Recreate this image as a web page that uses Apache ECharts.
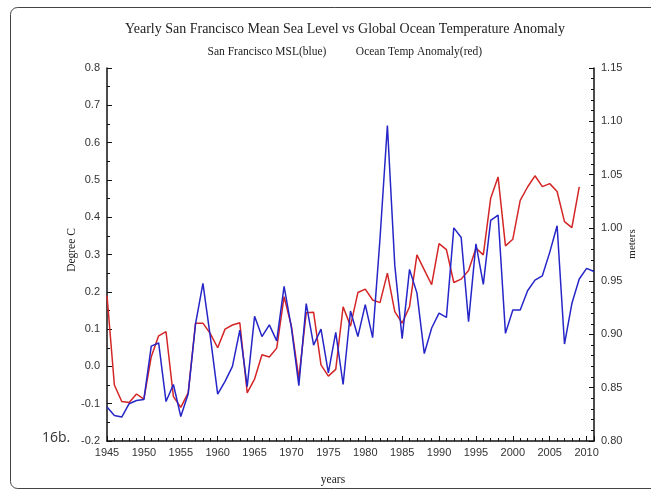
<!DOCTYPE html>
<html>
<head>
<meta charset="utf-8">
<title>Yearly San Francisco Mean Sea Level vs Global Ocean Temperature Anomaly</title>
<script src="https://cdn.jsdelivr.net/npm/echarts@6/dist/echarts.min.js"></script>
<style>
  html, body { margin: 0; padding: 0; background: #fff; }
  #chart { width: 651px; height: 491px; }
</style>
</head>
<body>
<div id="chart"></div>
<script>
// Years on the horizontal axis
const tempYears = [1945,1946,1947,1948,1949,1950,1951,1952,1953,1954,1955,1956,1957,1958,1959,
  1960,1961,1962,1963,1964,1965,1966,1967,1968,1969,1970,1971,1972,1973,1974,1975,1976,1977,
  1978,1979,1980,1981,1982,1983,1984,1985,1986,1987,1988,1989,1990,1991,1992,1993,1994,1995,
  1996,1997,1998,1999,2000,2001,2002,2003,2004,2005,2006,2007,2008,2009];
const mslYears = [1945,1946,1947,1948,1949,1950,1951,1952,1953,1954,1955,1956,1957,1958,1959,
  1960,1961,1962,1963,1964,1965,1966,1967,1968,1969,1970,1971,1972,1973,1974,1975,1976,1977,
  1978,1979,1980,1981,1982,1983,1984,1985,1986,1987,1988,1989,1990,1991,1992,1993,1994,1995,
  1996,1997,1998,1999,2000,2001,2002,2003,2004,2005,2006,2007,2008,2009,2010,2011];

// Global ocean temperature anomaly (degree C), left axis
const oceanTempAnomaly = [0.19,-0.05,-0.094,-0.097,-0.074,-0.088,0.026,0.082,0.093,-0.081,-0.11,-0.071,0.116,0.116,0.088,
  0.05,0.1,0.111,0.117,-0.071,-0.034,0.031,0.025,0.049,0.187,0.107,-0.032,0.144,0.145,0.004,-0.026,-0.008,0.16,
  0.108,0.198,0.207,0.178,0.171,0.25,0.147,0.116,0.16,0.299,0.259,0.219,0.329,0.313,0.225,0.234,0.257,0.317,
  0.299,0.451,0.508,0.323,0.341,0.445,0.481,0.511,0.482,0.49,0.469,0.388,0.372,0.481];

// San Francisco yearly mean sea level (meters), right axis
const sfMeanSeaLevel = [0.832,0.824,0.8225,0.835,0.838,0.839,0.889,0.892,0.837,0.853,0.823,0.844,0.910,0.948,0.898,
  0.844,0.856,0.870,0.904,0.851,0.917,0.898,0.909,0.894,0.945,0.906,0.852,0.929,0.890,0.905,0.864,0.902,0.853,
  0.922,0.898,0.928,0.897,0.99,1.096,0.965,0.896,0.961,0.939,0.882,0.906,0.920,0.916,1.0,0.991,0.912,0.985,
  0.947,1.007,1.012,0.901,0.923,0.923,0.941,0.951,0.955,0.977,1.002,0.891,0.929,0.952,0.962,0.959];

const tempTicks = { min: -0.2, max: 0.8, step: 0.1 };
const mslTicks = { min: 0.8, max: 1.15, step: 0.05 };
const yearTicks = { min: 1945, max: 2011, step: 5 };

const chart = echarts.init(document.getElementById('chart'), null, { renderer: 'canvas' });

const tickFont = { fontFamily: 'Liberation Sans', fontSize: 11, color: '#333' };
const serif = 'Liberation Serif';
const axisBlack = { color: '#111', width: 1.5 };

const option = {
  animation: false,
  backgroundColor: '#fff',
  grid: { left: 107, right: 57, top: 68, bottom: 50, containLabel: false },
  xAxis: {
    type: 'value',
    min: yearTicks.min, max: yearTicks.max, interval: yearTicks.step,
    axisLine: { show: true, onZero: false, lineStyle: axisBlack },
    axisTick: { show: true, inside: true, length: 5, lineStyle: { color: '#111', width: 1 } },
    minorTick: { show: true, splitNumber: 5, length: 3, lineStyle: { color: '#111', width: 1 } },
    splitLine: { show: false },
    axisLabel: Object.assign({ margin: 6, formatter: v => String(v) }, tickFont)
  },
  yAxis: [
    {
      type: 'value',
      position: 'left',
      min: tempTicks.min, max: tempTicks.max, interval: tempTicks.step,
      axisLine: { show: true, lineStyle: axisBlack },
      axisTick: { show: true, inside: true, length: 5, lineStyle: { color: '#111', width: 1 } },
      minorTick: { show: true, splitNumber: 2, length: 3, lineStyle: { color: '#111', width: 1 } },
      splitLine: { show: false },
      axisLabel: Object.assign({ margin: 7, formatter: v => v.toFixed(1) }, tickFont)
    },
    {
      type: 'value',
      position: 'right',
      min: mslTicks.min, max: mslTicks.max, interval: mslTicks.step,
      axisLine: { show: true, lineStyle: axisBlack },
      axisTick: { show: true, inside: true, length: 5, lineStyle: { color: '#111', width: 1 } },
      minorTick: { show: true, splitNumber: 5, length: 3, lineStyle: { color: '#111', width: 1 } },
      splitLine: { show: false },
      axisLabel: Object.assign({ margin: 7, formatter: v => v.toFixed(2) }, tickFont)
    }
  ],
  series: [
    {
      name: 'Ocean Temp Anomaly',
      type: 'line',
      yAxisIndex: 0,
      data: tempYears.map((y, i) => [y, oceanTempAnomaly[i]]),
      showSymbol: false,
      lineStyle: { color: '#d42626', width: 1.5 },
      z: 2
    },
    {
      name: 'San Francisco MSL',
      type: 'line',
      yAxisIndex: 1,
      data: mslYears.map((y, i) => [y, sfMeanSeaLevel[i]]),
      showSymbol: false,
      lineStyle: { color: '#2626c8', width: 1.5 },
      z: 3
    }
  ],
  graphic: [
    {
      type: 'rect', silent: true,
      shape: { x: 10.5, y: 7.5, width: 720, height: 481, r: 7 },
      style: { fill: 'none', stroke: '#444', lineWidth: 1 }
    },
    {
      type: 'text', x: 345, y: 29,
      style: { text: 'Yearly San Francisco Mean Sea Level vs Global Ocean Temperature Anomaly',
        fontFamily: serif, fontSize: 14, fill: '#222', align: 'center', verticalAlign: 'middle' }
    },
    {
      type: 'text', x: 267, y: 52,
      style: { text: 'San Francisco MSL(blue)', fontFamily: serif, fontSize: 11.5, fill: '#222',
        align: 'center', verticalAlign: 'middle' }
    },
    {
      type: 'text', x: 419, y: 52,
      style: { text: 'Ocean Temp Anomaly(red)', fontFamily: serif, fontSize: 11.5, fill: '#222',
        align: 'center', verticalAlign: 'middle' }
    },
    {
      type: 'text', x: 72, y: 250, rotation: Math.PI / 2,
      style: { text: 'Degree C', fontFamily: serif, fontSize: 11.5, fill: '#222',
        align: 'center', verticalAlign: 'middle' }
    },
    {
      type: 'text', x: 632, y: 244, rotation: Math.PI / 2,
      style: { text: 'meters', fontFamily: serif, fontSize: 11, fill: '#222',
        align: 'center', verticalAlign: 'middle' }
    },
    {
      type: 'text', x: 333, y: 480,
      style: { text: 'years', fontFamily: serif, fontSize: 11.5, fill: '#222',
        align: 'center', verticalAlign: 'middle' }
    },
    {
      type: 'text', x: 42, y: 438,
      style: { text: '16b.', fontFamily: 'Open Sans', fontSize: 14, fill: '#333',
        align: 'left', verticalAlign: 'middle' }
    }
  ]
};

chart.setOption(option);
</script>
</body>
</html>
